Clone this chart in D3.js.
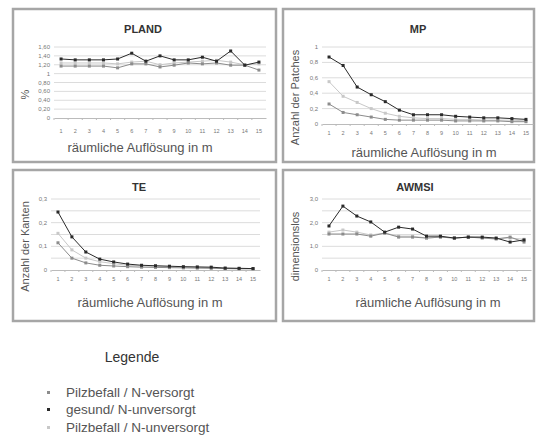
<!DOCTYPE html>
<html>
<head>
<meta charset="utf-8">
<script src="https://cdn.jsdelivr.net/npm/d3@7"></script>
<style>
  body { margin: 0; background: #fff; }
  text { font-family: Arial, "Liberation Sans", sans-serif; }
</style>
</head>
<body>
<div class="container"></div>
<script>
// x categories: spatial resolution in m
var resolution = [1, 2, 3, 4, 5, 6, 7, 8, 9, 10, 11, 12, 13, 14, 15];

var seriesNames = ["Pilzbefall / N-versorgt", "gesund/ N-unversorgt", "Pilzbefall / N-unversorgt"];
var seriesColors = ["#8c8c8c", "#2a2a2a", "#c8c8c8"];

// PLAND (%)
var plandVersorgt   = [1.17, 1.17, 1.17, 1.17, 1.13, 1.22, 1.22, 1.15, 1.19, 1.24, 1.22, 1.24, 1.19, 1.19, 1.08];
var plandGesund     = [1.33, 1.31, 1.31, 1.31, 1.33, 1.46, 1.28, 1.40, 1.31, 1.31, 1.37, 1.28, 1.51, 1.19, 1.26];
var plandUnversorgt = [1.24, 1.24, 1.24, 1.24, 1.22, 1.26, 1.28, 1.20, 1.24, 1.26, 1.28, 1.30, 1.26, 1.20, 1.22];
var plandTicks  = [0, 0.2, 0.4, 0.6, 0.8, 1, 1.2, 1.4, 1.6];
var plandLabels = ["0", "0,20", "0,40", "0,60", "0,80", "1", "1,20", "1,40", "1,60"];

// MP (Anzahl der Patches)
var mpVersorgt   = [0.26, 0.15, 0.12, 0.09, 0.06, 0.05, 0.05, 0.05, 0.05, 0.04, 0.04, 0.04, 0.04, 0.03, 0.03];
var mpGesund     = [0.87, 0.76, 0.48, 0.38, 0.29, 0.18, 0.12, 0.12, 0.12, 0.10, 0.09, 0.08, 0.08, 0.07, 0.06];
var mpUnversorgt = [0.55, 0.36, 0.28, 0.20, 0.14, 0.10, 0.08, 0.07, 0.07, 0.06, 0.06, 0.05, 0.05, 0.05, 0.04];
var mpTicks  = [0, 0.2, 0.4, 0.6, 0.8, 1];
var mpLabels = ["0", "0,2", "0,4", "0,6", "0,8", "1"];

// TE (Anzahl der Kanten)
var teVersorgt   = [0.115, 0.050, 0.030, 0.020, 0.017, 0.014, 0.012, 0.011, 0.010, 0.009, 0.008, 0.007, 0.006, 0.005, 0.005];
var teGesund     = [0.245, 0.140, 0.076, 0.046, 0.034, 0.025, 0.020, 0.018, 0.016, 0.014, 0.013, 0.012, 0.008, 0.007, 0.006];
var teUnversorgt = [0.155, 0.085, 0.050, 0.035, 0.027, 0.020, 0.017, 0.015, 0.013, 0.012, 0.011, 0.010, 0.008, 0.007, 0.006];
var teGrid   = [0, 0.05, 0.1, 0.15, 0.2, 0.25, 0.3];
var teTicks  = [0, 0.1, 0.2, 0.3];
var teLabels = ["0", "0,1", "0,2", "0,3"];

// AWMSI (dimensionslos)
var awVersorgt   = [1.52, 1.52, 1.52, 1.43, 1.56, 1.39, 1.39, 1.35, 1.39, 1.35, 1.39, 1.35, 1.31, 1.39, 1.18];
var awGesund     = [1.86, 2.70, 2.28, 2.03, 1.60, 1.81, 1.73, 1.43, 1.43, 1.35, 1.39, 1.39, 1.35, 1.18, 1.27];
var awUnversorgt = [1.60, 1.69, 1.60, 1.48, 1.56, 1.43, 1.43, 1.35, 1.39, 1.35, 1.39, 1.37, 1.33, 1.35, 1.30];
var awGrid   = [0, 0.5, 1, 1.5, 2, 2.5, 3];
var awTicks  = [0, 1, 2, 3];
var awLabels = ["0", "1,0", "2,0", "3,0"];

var xTitle = "räumliche Auflösung in m";

var svg = d3.select(".container").append("svg")
    .attr("width", 536)
    .attr("height", 437);

var panels = [
  { title: "PLAND", yTitle: "%", box: [13, 9, 263, 153], plot: [54, 47, 212, 71],
    domain: [0, 1.6], grid: plandTicks, ticks: plandTicks, labels: plandLabels,
    series: [plandVersorgt, plandGesund, plandUnversorgt],
    titleX: 143, titleY: 33, xTitleX: 140, xTitleY: 152, xLabY: 134 },
  { title: "MP", yTitle: "Anzahl der Patches", box: [283, 9, 251, 153], plot: [322, 47, 211, 77],
    domain: [0, 1], grid: mpTicks, ticks: mpTicks, labels: mpLabels,
    series: [mpVersorgt, mpGesund, mpUnversorgt],
    titleX: 418, titleY: 33, xTitleX: 424, xTitleY: 157, xLabY: 136 },
  { title: "TE", yTitle: "Anzahl der Kanten", box: [13, 170, 263, 151], plot: [51, 199, 209, 71],
    domain: [0, 0.3], grid: teGrid, ticks: teTicks, labels: teLabels,
    series: [teVersorgt, teGesund, teUnversorgt],
    titleX: 139, titleY: 191, xTitleX: 150, xTitleY: 307, xLabY: 282 },
  { title: "AWMSI", yTitle: "dimensionslos", box: [283, 170, 251, 151], plot: [322, 199, 209, 71],
    domain: [0, 3], grid: awGrid, ticks: awTicks, labels: awLabels,
    series: [awVersorgt, awGesund, awUnversorgt],
    titleX: 415, titleY: 191, xTitleX: 428, xTitleY: 307, xLabY: 282 }
];

panels.forEach(function(p) {
  var g = svg.append("g");

  g.append("rect")
    .attr("x", p.box[0]).attr("y", p.box[1])
    .attr("width", p.box[2]).attr("height", p.box[3])
    .attr("fill", "#fff")
    .attr("stroke", "#a6a6a6")
    .attr("stroke-width", 2.5);

  var x = d3.scaleBand()
    .domain(resolution)
    .range([p.plot[0], p.plot[0] + p.plot[2]]);

  var y = d3.scaleLinear()
    .domain(p.domain)
    .range([p.plot[1] + p.plot[3], p.plot[1]]);

  // gridlines
  g.selectAll(".grid")
    .data(p.grid.slice(1))
    .enter().append("line")
    .attr("x1", p.plot[0]).attr("x2", p.plot[0] + p.plot[2])
    .attr("y1", function(d) { return y(d); })
    .attr("y2", function(d) { return y(d); })
    .attr("stroke", "#dcdcdc")
    .attr("stroke-width", 1);

  // y tick labels
  g.selectAll(".ylab")
    .data(p.ticks)
    .enter().append("text")
    .attr("x", p.plot[0] - 4)
    .attr("y", function(d) { return y(d) + 2; })
    .attr("text-anchor", "end")
    .attr("font-size", 6)
    .attr("fill", "#777")
    .text(function(d, i) { return p.labels[i]; });

  // x axis
  var xAxis = g.append("g")
    .attr("transform", "translate(0," + y(0) + ")")
    .call(d3.axisBottom(x).tickSize(0).tickPadding(p.xLabY - y(0) - 5));
  xAxis.select(".domain").attr("stroke", "#bbb");
  xAxis.selectAll("text")
    .attr("font-size", 5.5)
    .attr("fill", "#777")
    .attr("font-family", "Arial, sans-serif");
  g.selectAll(".xt")
    .data(resolution)
    .enter().append("line")
    .attr("x1", function(d) { return x(d); })
    .attr("x2", function(d) { return x(d); })
    .attr("y1", y(0)).attr("y2", y(0) + 2)
    .attr("stroke", "#bbb");

  // lines and markers
  var line = d3.line()
    .x(function(d, i) { return x(resolution[i]) + x.bandwidth() / 2; })
    .y(function(d) { return y(d); });

  [2, 0, 1].forEach(function(s) {
    var vals = p.series[s];
    g.append("path")
      .datum(vals)
      .attr("fill", "none")
      .attr("stroke", seriesColors[s])
      .attr("stroke-width", 1)
      .attr("d", line);
    g.selectAll(".m" + s)
      .data(vals)
      .enter().append("rect")
      .attr("x", function(d, i) { return x(resolution[i]) + x.bandwidth() / 2 - 1.5; })
      .attr("y", function(d) { return y(d) - 1.5; })
      .attr("width", 3).attr("height", 3)
      .attr("fill", seriesColors[s]);
  });

  // titles
  g.append("text")
    .attr("x", p.titleX)
    .attr("y", p.titleY)
    .attr("text-anchor", "middle")
    .attr("font-size", 11)
    .attr("font-weight", "bold")
    .attr("fill", "#333")
    .text(p.title);

  g.append("text")
    .attr("x", p.xTitleX)
    .attr("y", p.xTitleY)
    .attr("text-anchor", "middle")
    .attr("font-size", 13)
    .attr("fill", "#555")
    .text(xTitle);

  var yt = p.box[0] + 16;
  var ym = p.plot[1] + p.plot[3] / 2 + 12;
  g.append("text")
    .attr("transform", "translate(" + yt + "," + ym + ") rotate(-90)")
    .attr("text-anchor", "middle")
    .attr("font-size", 11)
    .attr("fill", "#555")
    .text(p.yTitle);
});

// legend
svg.append("text")
  .attr("x", 132).attr("y", 362)
  .attr("text-anchor", "middle")
  .attr("font-size", 14)
  .attr("fill", "#333")
  .text("Legende");

var legendOrder = [0, 1, 2];
var legendY = [397, 414, 432];
legendOrder.forEach(function(s, i) {
  svg.append("rect")
    .attr("x", 47).attr("y", legendY[i] - 6)
    .attr("width", 3).attr("height", 3)
    .attr("fill", seriesColors[s]);
  svg.append("text")
    .attr("x", 66).attr("y", legendY[i])
    .attr("font-size", 13.5)
    .attr("fill", "#555")
    .text(seriesNames[s]);
});
</script>
</body>
</html>
